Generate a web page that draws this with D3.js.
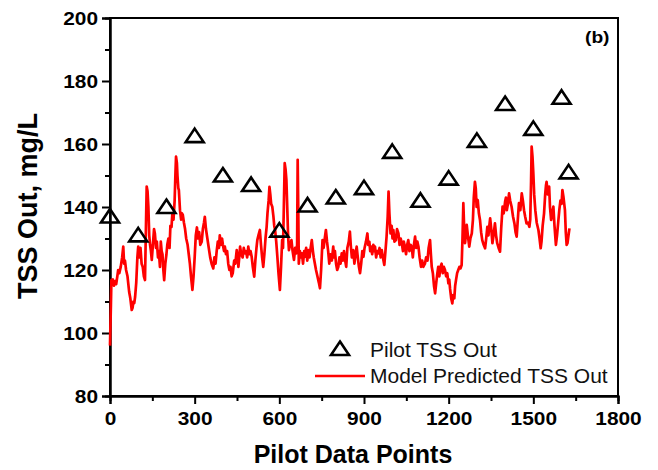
<!DOCTYPE html>
<html>
  <head>
    <style>
      body { margin: 0; background: #fff; }
      text { font-family: 'Liberation Sans', Arial, sans-serif; }
    </style>
  </head>

  <body>

    <svg class="surface" width="658" height="470"></svg>

    <script src="https://cdn.jsdelivr.net/npm/d3@7/dist/d3.min.js" charset="utf-8"></script>
    <script>

      // pilot measurements (triangles)
      const pilotX = [0, 100, 200, 300, 400, 500, 600, 700, 800, 900, 1000, 1100, 1200, 1300, 1400, 1500, 1600, 1625]
      const pilotY = [137, 131, 140, 162.5, 150, 147, 132.5, 140.5, 143, 146, 157.5, 142, 149, 161, 172.7, 164.8, 174.7, 151]

      // model prediction (red line), [data point, mg/L]
      const modelPoints = [
        [0, 96], [3, 108], [5, 116.8], [10, 117], [14, 115], [18, 116.5], [22, 115.5], [26, 118], [29, 120], [33, 119],
        [38, 121], [43, 124], [47, 127.4], [50, 122], [53, 123], [57, 120], [62, 118], [68, 113], [72, 111], [77, 107.3],
        [80, 108], [83, 110], [86, 109.5], [89, 111.5], [93, 116], [97, 124], [100, 127.4], [104, 124], [108, 127], [112, 122],
        [116, 121], [120, 118], [124, 116.8], [127, 132], [130, 146.5], [133, 145], [136, 140], [139, 131], [142, 128], [145, 126],
        [148, 123.2], [152, 128], [156, 133], [159, 131.6], [163, 127], [166, 129], [170, 124], [173, 126], [177, 121], [180, 129],
        [183, 126], [186, 125], [189, 120], [192, 116.8], [196, 122], [200, 125], [203, 128], [207, 130], [211, 127], [214, 134],
        [218, 133.7], [221, 138], [225, 136], [229, 142], [232, 151], [234, 156], [237, 154], [239, 150], [242, 146], [244, 145.4],
        [248, 139], [252, 136], [255, 138], [258, 137.5], [262, 135], [266, 133], [270, 130], [275, 128], [279, 125], [283, 122],
        [287, 118], [292, 113.7], [296, 118], [300, 124], [304, 131], [308, 133.5], [312, 130], [316, 132], [320, 128], [325, 129],
        [329, 133], [333, 135], [336, 136.9], [340, 133], [345, 130], [350, 127], [355, 124], [360, 122], [366, 120.5], [370, 124],
        [374, 122], [378, 126], [382, 129], [386, 127], [389, 131], [393, 128], [397, 130], [400, 128], [404, 126], [407, 127.4],
        [411, 125], [415, 126], [419, 122], [423, 120], [427, 121], [431, 118], [435, 119], [440, 123], [444, 122], [449, 126.3],
        [452, 124], [455, 121], [458, 124], [461, 127.4], [465, 125], [470, 124], [474, 127], [478, 125.3], [482, 126], [486, 124],
        [490, 127.4], [494, 125], [498, 126], [502, 124.2], [506, 121], [511, 117.9], [515, 123], [519, 127], [522, 129.5], [526, 131],
        [531, 132.7], [535, 128], [539, 124], [543, 121], [547, 125], [551, 130], [555, 133.7], [558, 138], [562, 142], [565, 146.4],
        [568, 144], [571, 141], [575, 140.1], [579, 137], [582, 134], [585, 132.7], [589, 129], [593, 124.2], [597, 119], [602, 113.7],
        [606, 121], [610, 129.5], [613, 127], [616, 140], [619, 153.9], [622, 152], [625, 148.6], [628, 140], [631, 131], [634, 126.3],
        [638, 128], [643, 129.5], [647, 126], [652, 123.2], [656, 127], [660, 125.3], [663, 128], [665, 155], [667, 140], [669, 122],
        [673, 126], [676, 124], [680, 125.3], [684, 122], [688, 126], [691, 124.2], [695, 127], [699, 123], [703, 126.3], [707, 124],
        [711, 127], [715, 129.5], [719, 126], [722, 124], [726, 122], [730, 120], [735, 118], [740, 116], [744, 114.2], [748, 120],
        [753, 129.5], [757, 127], [761, 130], [765, 132.7], [769, 129], [773, 126], [777, 122], [781, 125], [786, 123], [791, 127.4],
        [794, 124], [797, 126], [801, 122], [805, 120], [809, 121], [813, 124], [817, 122], [821, 125.3], [825, 123], [829, 126],
        [833, 123.2], [837, 121], [841, 127], [846, 129], [850, 132.2], [853, 128], [857, 124], [862, 126.3], [866, 122], [870, 125],
        [874, 127.4], [878, 124], [882, 121], [886, 119], [890, 122], [894, 126], [898, 124.2], [902, 127], [907, 129], [912, 131.6],
        [915, 128], [919, 129], [922, 126], [925, 127.4], [929, 125], [933, 128], [936, 126], [939, 127.4], [943, 124], [947, 126],
        [951, 125.3], [955, 127], [959, 124], [963, 126.3], [967, 124], [972, 121.6], [976, 126], [980, 130.6], [984, 137], [987, 144.9],
        [990, 138], [994, 131.6], [998, 134], [1001, 130], [1004, 132.7], [1008, 129], [1013, 129.5], [1017, 133], [1022, 131.6], [1026, 128],
        [1030, 130], [1034, 128.5], [1038, 126], [1041, 129], [1045, 127.4], [1049, 125], [1053, 128], [1057, 129.5], [1061, 126], [1065, 128],
        [1069, 127.4], [1073, 124], [1077, 128], [1081, 130.6], [1085, 127], [1089, 129], [1093, 127.4], [1097, 124], [1102, 121], [1106, 123],
        [1110, 121], [1116, 122], [1120, 124], [1125, 123], [1129, 127], [1134, 129.5], [1137, 125], [1140, 121], [1144, 119], [1148, 115],
        [1152, 112.6], [1156, 116], [1160, 119], [1163, 121], [1167, 118], [1171, 121], [1175, 122], [1179, 119], [1183, 121], [1187, 120],
        [1191, 118], [1195, 119], [1199, 115.8], [1202, 117], [1205, 114], [1209, 111], [1213, 109.4], [1216, 112], [1220, 111], [1223, 115],
        [1226, 116.8], [1230, 119], [1234, 120], [1238, 121], [1242, 120.5], [1246, 121.6], [1249, 130], [1252, 141.2], [1255, 133], [1258, 128.5],
        [1261, 131], [1264, 134.3], [1268, 131], [1273, 127.4], [1277, 130], [1282, 131.6], [1286, 136], [1289, 143], [1293, 148], [1296, 146],
        [1299, 140], [1303, 142.2], [1307, 138], [1311, 135.9], [1315, 132], [1319, 129.5], [1324, 128], [1329, 126.9], [1333, 130], [1337, 133.7],
        [1341, 131], [1344, 134], [1347, 136.4], [1351, 133], [1355, 128.5], [1359, 131], [1364, 134.8], [1368, 131], [1372, 128.5], [1377, 127],
        [1382, 125.8], [1386, 133], [1391, 140.1], [1395, 138], [1400, 141.7], [1403, 143], [1406, 139], [1410, 141], [1414, 144.3], [1418, 142],
        [1423, 140.1], [1428, 137], [1433, 134.8], [1437, 132], [1441, 130.6], [1445, 136], [1449, 141.2], [1454, 139], [1459, 144.3], [1463, 142],
        [1467, 139], [1471, 137], [1476, 134.8], [1481, 135], [1486, 133.7], [1489, 136], [1492, 148], [1494, 159.2], [1497, 156], [1500, 150.7],
        [1503, 144], [1507, 139], [1512, 135], [1518, 132.7], [1522, 130], [1526, 126.9], [1529, 129], [1533, 134], [1538, 138], [1542, 144],
        [1545, 147], [1547, 148], [1551, 144], [1556, 146.5], [1559, 140], [1563, 135.9], [1567, 138], [1571, 140.1], [1575, 134], [1580, 128],
        [1584, 131], [1588, 135], [1592, 139], [1596, 142], [1600, 141], [1603, 145.4], [1607, 143], [1612, 139], [1615, 132], [1618, 128],
        [1621, 128.5], [1624, 130.6], [1628, 133.2]
      ]

      const xTicks = [0, 300, 600, 900, 1200, 1500, 1800]
      const yTicks = [80, 100, 120, 140, 160, 180, 200]
      const legendLabels = ['Pilot TSS Out', 'Model Predicted TSS Out']

      const m = { left: 110, right: 618, top: 18, bottom: 396 }
      const surface = d3.select('.surface')

      const x = d3.scaleLinear().domain([0, 1800]).range([m.left, m.right])
      const y = d3.scaleLinear().domain([80, 200]).range([m.bottom, m.top])

      // minor ticks
      surface.append('g')
        .attr('transform', `translate(0,${m.bottom})`)
        .call(d3.axisBottom(x).tickValues(d3.range(150, 1800, 300)).tickSize(5).tickFormat(''))
      surface.append('g')
        .attr('transform', `translate(${m.left},0)`)
        .call(d3.axisLeft(y).tickValues(d3.range(90, 200, 20)).tickSize(5).tickFormat(''))

      const xAxis = surface.append('g')
        .attr('transform', `translate(0,${m.bottom})`)
        .call(d3.axisBottom(x).tickValues(xTicks).tickSize(8).tickFormat(d3.format('d')))
      xAxis.selectAll('text')
        .attr('y', 29).attr('dy', 0)
        .attr('transform', 'scale(1.13,1)')

      const yAxis = surface.append('g')
        .attr('transform', `translate(${m.left},0)`)
        .call(d3.axisLeft(y).tickValues(yTicks).tickSize(8))
      yAxis.selectAll('text')
        .attr('x', -12 / 1.13).attr('dy', '0.36em')
        .attr('transform', 'scale(1.13,1)')

      surface.selectAll('.tick text')
        .style('font-size', '18.5px').style('font-weight', 'bold').attr('fill', '#000')
      surface.selectAll('.domain, .tick line').attr('stroke', '#000').attr('stroke-width', 2)

      // frame
      surface.append('rect')
        .attr('x', m.left).attr('y', m.top)
        .attr('width', m.right - m.left).attr('height', m.bottom - m.top)
        .attr('fill', 'none').attr('stroke', '#000').attr('stroke-width', 2)

      const line = d3.line()
        .x(d => x(d[0]))
        .y(d => y(d[1]))

      surface.append('path')
        .datum(modelPoints)
        .attr('d', line)
        .attr('fill', 'none')
        .attr('stroke', '#ff0000')
        .attr('stroke-width', 2.7)
        .attr('stroke-linejoin', 'round')

      const tri = 'M0,-7.5L9,6L-9,6Z'
      surface.selectAll('.pilot')
        .data(pilotX.map((v, i) => [v, pilotY[i]]))
        .enter()
        .append('path')
          .attr('class', 'pilot')
          .attr('d', tri)
          .attr('transform', d => `translate(${x(d[0])},${y(d[1])})`)
          .attr('fill', 'none')
          .attr('stroke', '#000')
          .attr('stroke-width', 2.6)
          .attr('stroke-linejoin', 'miter')

      // legend
      surface.append('path')
        .attr('d', tri)
        .attr('transform', 'translate(340,349)')
        .attr('fill', 'none').attr('stroke', '#000').attr('stroke-width', 2.6)
      surface.append('line')
        .attr('x1', 315).attr('x2', 365).attr('y1', 376).attr('y2', 376)
        .attr('stroke', '#ff0000').attr('stroke-width', 2.6)
      surface.selectAll('.legend')
        .data(legendLabels)
        .enter()
        .append('text')
          .attr('class', 'legend')
          .attr('transform', (d, i) => `translate(370,${356.5 + i * 26}) scale(1.05,1)`)
          .style('font-size', '20px')
          .attr('fill', '#111')
          .text(d => d)

      surface.append('text')
        .attr('transform', 'translate(585,43) scale(1.2,1)')
        .style('font-size', '16px').style('font-weight', 'bold')
        .text('(b)')

      // axis titles
      surface.append('text')
        .attr('x', 353).attr('y', 463)
        .attr('text-anchor', 'middle')
        .style('font-size', '25px').style('font-weight', 'bold')
        .text('Pilot Data Points')

      surface.append('text')
        .attr('transform', 'translate(37,206) rotate(-90)')
        .attr('text-anchor', 'middle')
        .style('font-size', '27px').style('font-weight', 'bold')
        .text('TSS Out, mg/L')

    </script>
  </body>

</html>
